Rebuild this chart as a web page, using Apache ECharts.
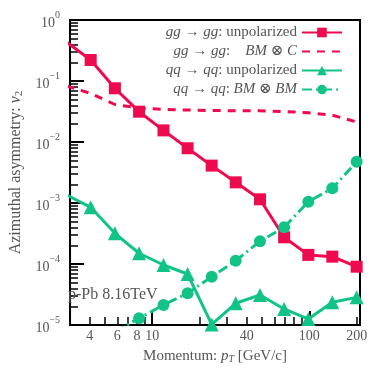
<!DOCTYPE html>
<html>
<head>
<meta charset="utf-8">
<script src="https://cdn.jsdelivr.net/npm/echarts@6/dist/echarts.min.js"></script>
<style>
html,body{margin:0;padding:0;background:#fff;}
#chart{width:374px;height:374px;}
</style>
</head>
<body>
<div id="chart"></div>
<script>
// pT grid (GeV/c), same for every curve
var ptValues = [2.85, 4.06, 5.79, 8.25, 11.8, 16.8, 23.9, 34.0, 48.5, 69.1, 98.5, 140, 200];
var ggUnpol = [0.434, 0.221, 0.076, 0.0314, 0.0155, 0.0079, 0.0041, 0.00218, 0.00115, 0.000274, 0.000141, 0.000132, 0.0000903];
var ggBMC = [0.0831, 0.0624, 0.0412, 0.0361, 0.0341, 0.0335, 0.0328, 0.0326, 0.0325, 0.0316, 0.0302, 0.0275, 0.0213];
var qqUnpol = [0.00136, 0.00085, 0.000318, 0.00015, 0.0000963, 0.0000686, 0.0000102, 0.0000227, 0.000031, 0.0000183, 0.0000125, 0.0000236, 0.0000284];
var qqBMBM = [null, null, 0.0000078, 0.0000129, 0.0000213, 0.0000331, 0.0000619, 0.000113, 0.000236, 0.0004, 0.00105, 0.00174, 0.00475];

var seriesNames = ['gg unpolarized', 'gg BMxC', 'qq unpolarized', 'qq BMxBM'];
var legendLabels = [
  '{i|gg} → {i|gg}: unpolarized',
  '{i|gg} → {i|gg}:    {i|BM} ⊗ {i|C}',
  '{i|qq} → {i|qq}: unpolarized',
  '{i|qq} → {i|qq}: {i|BM} ⊗ {i|BM}'
];
var xTickLabels = [4, 6, 8, 10, 40, 100, 200];
var xMinorTicks = [4, 5, 6, 7, 8, 9, 20, 30, 40, 50, 60, 70, 80, 90, 200];
var yMinorMult = [2, 3, 4, 5, 6, 7, 8, 9];
var yDecades = [-5, -4, -3, -2, -1];

var red = '#ee0a4f';
var green = '#12c386';
var grey = '#555';
var serif = '"Liberation Serif", "DejaVu Serif", serif';

function pairs(vals) {
  var out = [];
  for (var i = 0; i < ptValues.length; i++) {
    if (vals[i] != null) out.push([ptValues[i], vals[i]]);
  }
  return out;
}

// minor ticks at 2..9 of each decade, in log10 units for the helper axis
var yMinor = [];
yDecades.forEach(function (d) {
  yMinorMult.forEach(function (k) { yMinor.push(Math.log10(k) + d); });
});

var chart = echarts.init(document.getElementById('chart'));
var option = {
  animation: false,
  grid: { left: 56, right: 14, top: 20, bottom: 49, show: true, borderColor: '#000', borderWidth: 2 },
  legend: {
    data: seriesNames,
    orient: 'vertical',
    right: 31,
    top: 24,
    padding: 0,
    itemGap: 2,
    itemWidth: 40,
    itemHeight: 12,
    align: 'right',
    formatter: function (name) { return legendLabels[seriesNames.indexOf(name)]; },
    textStyle: {
      color: grey, fontSize: 15, fontFamily: serif, lineHeight: 17,
      rich: { i: { fontStyle: 'italic', fontSize: 15, fontFamily: serif, color: grey, lineHeight: 17 } }
    }
  },
  graphic: [{
    type: 'text', left: 68, top: 287, z: 10,
    style: { text: 'p-Pb 8.16TeV', fill: grey, font: '16px "Liberation Serif"' }
  }],
  xAxis: [{
    type: 'log', logBase: 10, min: 3, max: 210, position: 'bottom',
    axisLine: { onZero: false, lineStyle: { color: '#000', width: 2 } },
    axisTick: { inside: true, length: 14, lineStyle: { color: '#000', width: 2 } },
    axisLabel: { show: false },
    splitLine: { show: false },
    name: 'Momentum: {i|p}{s|T} [GeV/c]',
    nameLocation: 'middle',
    nameGap: 23,
    nameTextStyle: {
      color: grey, fontSize: 15, fontFamily: serif,
      rich: {
        i: { fontStyle: 'italic', fontSize: 15, fontFamily: serif, color: grey },
        s: { fontStyle: 'italic', fontSize: 10, fontFamily: serif, color: grey, padding: [6, 0, 0, 0] }
      }
    }
  }, {
    type: 'value', min: Math.log10(3), max: Math.log10(210), position: 'bottom',
    axisLine: { show: false, onZero: false },
    axisTick: { inside: true, length: 8, customValues: xMinorTicks.map(Math.log10), lineStyle: { color: '#000', width: 1.5 } },
    axisLabel: {
      customValues: xTickLabels.map(Math.log10),
      formatter: function (v) { return String(Math.round(Math.pow(10, v))); },
      color: grey, fontSize: 14, fontFamily: serif, margin: 4
    },
    splitLine: { show: false }
  }],
  yAxis: [{
    type: 'log', logBase: 10, min: 1e-5, max: 1, position: 'left',
    axisLine: { onZero: false, lineStyle: { color: '#000', width: 2 } },
    axisTick: { inside: true, length: 14, lineStyle: { color: '#000', width: 2 } },
    axisLabel: {
      margin: 10,
      formatter: function (v) {
        var e = Math.round(Math.log10(v));
        return '{b|10}{s|' + (e < 0 ? '−' + (-e) : e) + '}';
      },
      rich: {
        b: { fontSize: 14, fontFamily: serif, color: grey, lineHeight: 20, verticalAlign: 'bottom' },
        s: { fontSize: 10, fontFamily: serif, color: grey, lineHeight: 12, verticalAlign: 'top' }
      }
    },
    splitLine: { show: false },
    name: 'Azimuthal asymmetry: {i|v}{s|2}',
    nameLocation: 'middle',
    nameGap: 36,
    nameTextStyle: {
      color: grey, fontSize: 16, fontFamily: serif,
      rich: {
        i: { fontStyle: 'italic', fontSize: 16, fontFamily: serif, color: grey },
        s: { fontSize: 11, fontFamily: serif, color: grey, padding: [6, 0, 0, 0] }
      }
    }
  }, {
    type: 'value', min: -5, max: 0, position: 'left',
    axisLine: { show: false, onZero: false },
    axisTick: { inside: true, length: 8, customValues: yMinor, lineStyle: { color: '#000', width: 1.5 } },
    axisLabel: { show: false },
    splitLine: { show: false }
  }],
  series: [{
    name: seriesNames[0], type: 'line', data: pairs(ggUnpol),
    symbol: 'rect', symbolSize: 12,
    lineStyle: { color: red, width: 3 }, itemStyle: { color: red }
  }, {
    name: seriesNames[1], type: 'line', data: pairs(ggBMC),
    symbol: 'none',
    lineStyle: { color: red, width: 3, type: [8, 7] }, itemStyle: { color: 'transparent' }
  }, {
    name: seriesNames[2], type: 'line', data: pairs(qqUnpol),
    symbol: 'triangle', symbolSize: 14,
    lineStyle: { color: green, width: 3 }, itemStyle: { color: green }
  }, {
    name: seriesNames[3], type: 'line', data: pairs(qqBMBM),
    symbol: 'circle', symbolSize: 12,
    lineStyle: { color: green, width: 3, type: [10, 4, 2, 4] }, itemStyle: { color: green }
  }]
};
chart.setOption(option);
</script>
</body>
</html>
